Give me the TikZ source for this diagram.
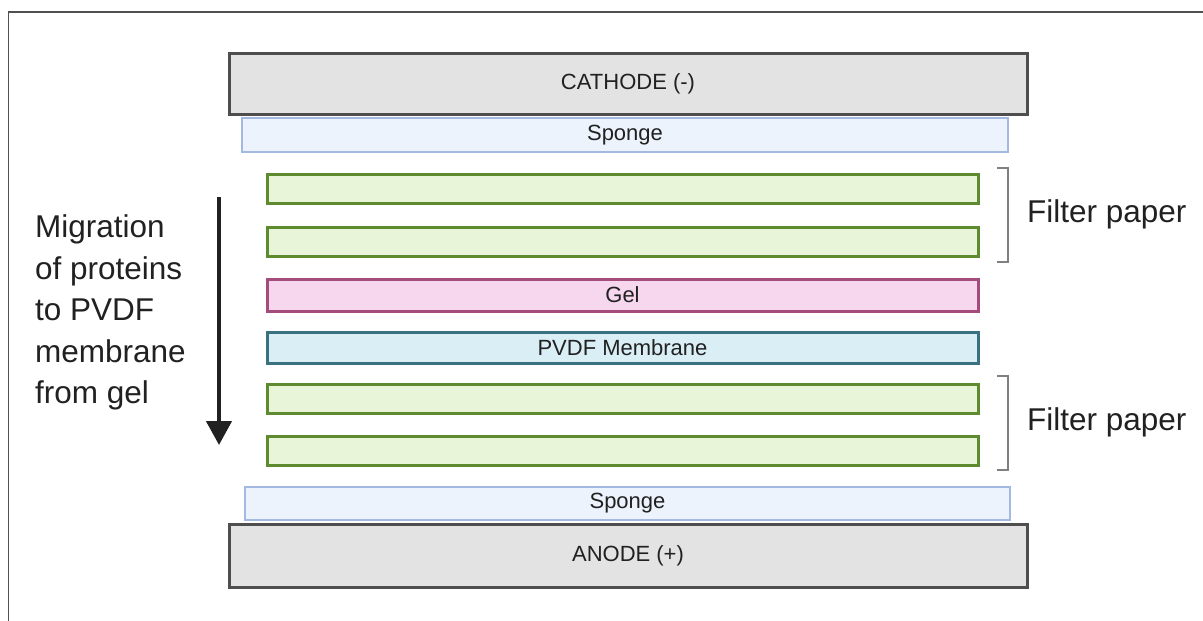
\documentclass[tikz,border=0pt]{standalone}
\usepackage{fontspec}
\setmainfont{Liberation Sans}
\usetikzlibrary{arrows.meta}
\definecolor{txt}{HTML}{212121}
\definecolor{frame}{HTML}{505050}
\definecolor{elecD}{HTML}{4E4E4E}
\definecolor{elecF}{HTML}{E3E3E3}
\definecolor{spongeD}{HTML}{A3B9E2}
\definecolor{spongeF}{HTML}{ECF3FC}
\definecolor{filterD}{HTML}{5F8B30}
\definecolor{filterF}{HTML}{E9F5D9}
\definecolor{gelD}{HTML}{A44C7B}
\definecolor{gelF}{HTML}{F6D7EE}
\definecolor{pvdfD}{HTML}{3B7080}
\definecolor{pvdfF}{HTML}{D9EEF5}
\definecolor{brack}{HTML}{808080}
\begin{document}
\begin{tikzpicture}[x=1pt,y=-1pt,
  layer/.style={rectangle,inner sep=0pt,outer sep=0pt,text=txt,
    font=\fontsize{22}{25}\selectfont},
  electrode/.style={layer,draw=elecD,fill=elecF,line width=3pt},
  sponge/.style={layer,draw=spongeD,fill=spongeF,line width=2.5pt},
  filterbox/.style={layer,draw=filterD,fill=filterF,line width=3pt},
  gelbox/.style={layer,draw=gelD,fill=gelF,line width=3pt},
  pvdfbox/.style={layer,draw=pvdfD,fill=pvdfF,line width=3pt},
  bracket/.style={draw=brack,line width=1.3pt},
  biglabel/.style={text=txt,inner sep=0pt,font=\fontsize{31.5}{41.5}\selectfont},
]
\useasboundingbox (0,0) rectangle (1203,621);
\fill[white] (0,0) rectangle (1203,621);
% outer frame
\draw[frame,line width=1.5pt] (8.5,621) -- (8.5,12) -- (1203,12);

% stack
\node[electrode,minimum width=798pt,minimum height=61pt] (cathode) at (628,83.5) {CATHODE (-)};
\node[sponge,minimum width=766pt,minimum height=34pt] (sponge1) at (625,135) {Sponge};
\node[filterbox,minimum width=711pt,minimum height=29pt] (f1) at (622.5,188.5) {};
\node[filterbox,minimum width=711pt,minimum height=29pt] (f2) at (622.5,241.5) {};
\node[gelbox,minimum width=711pt,minimum height=32pt] (gel) at (622.5,295) {Gel};
\node[pvdfbox,minimum width=711pt,minimum height=31pt] (pvdf) at (622.5,347.5) {PVDF Membrane};
\node[filterbox,minimum width=711pt,minimum height=29pt] (f3) at (622.5,398.5) {};
\node[filterbox,minimum width=711pt,minimum height=29pt] (f4) at (622.5,450.5) {};
\node[sponge,minimum width=765pt,minimum height=33pt] (sponge2) at (627.5,503.5) {Sponge};
\node[electrode,minimum width=798pt,minimum height=63pt] (anode) at (628,555.5) {ANODE (+)};

% brackets
\coordinate (b1a) at (997,168);
\coordinate (b1b) at (997,262);
\coordinate (b2a) at (997,376);
\coordinate (b2b) at (997,470);
\draw[bracket] (b1a) -- ++(11,0) |- (b1b);
\draw[bracket] (b2a) -- ++(11,0) |- (b2b);
\node[biglabel,anchor=base west] (fp1) at (1027,222) {Filter paper};
\node[biglabel,anchor=base west] (fp2) at (1027,430) {Filter paper};

% migration label and arrow
\node[biglabel,anchor=north west,align=left] (mig) at (35,214.5)
  {Migration\\of proteins\\to PVDF\\membrane\\from gel};
\coordinate (arrS) at (219,197);
\coordinate (arrE) at (219,445);
\draw[txt,line width=4.5pt,-{Triangle[length=24pt,width=25pt]}] (arrS) -- (arrE);
\end{tikzpicture}
\end{document}
